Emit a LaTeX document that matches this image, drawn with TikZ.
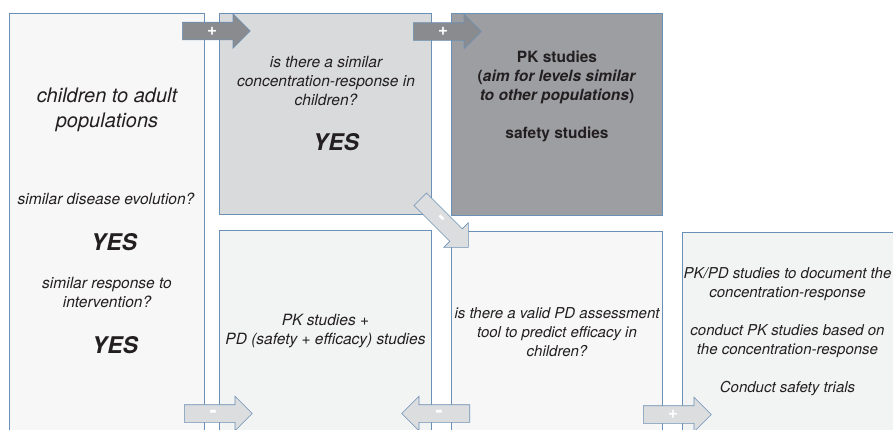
\documentclass[tikz,border=0pt]{standalone}
\usepackage{fontspec}
\setmainfont{TeX Gyre Heros}
\usetikzlibrary{shapes.arrows, calc}

\definecolor{boxline}{HTML}{6A90B5}
\definecolor{ink}{HTML}{231F20}
\definecolor{paleA}{HTML}{F7F7F7}
\definecolor{paleB}{HTML}{F2F3F3}
\definecolor{midgray}{HTML}{D9DADC}
\definecolor{darkgray}{HTML}{9D9EA2}
\definecolor{arrdark}{HTML}{8A8B8E}
\definecolor{arrlight}{HTML}{DCDDDF}

\tikzset{
  panel/.style={draw=boxline, line width=0.8pt, inner sep=0pt},
  txt/.style={text=ink, align=center, inner sep=0pt, font=\itshape\fontsize{15.5}{19}\selectfont},
  yes/.style={text=ink, inner sep=0pt, font=\bfseries\itshape\fontsize{23}{26}\selectfont},
  blockarr/.style={single arrow, draw=boxline, line width=0.6pt, minimum height=68pt,
    inner xsep=0pt, inner ysep=8.5pt, single arrow head extend=8.5pt, anchor=tail},
  sign/.style={text=white, inner sep=0pt, font=\bfseries\fontsize{17}{17}\selectfont},
  minus/.style={text=white, inner sep=0pt, font=\bfseries\fontsize{21}{21}\selectfont},
}

\begin{document}
\begin{tikzpicture}[x=1pt,y=-1pt]
                \useasboundingbox (0,0) rectangle (893,429);
                \clip (0,0) rectangle (893,429);
                % the six panels
                \node[panel, fill=paleA, minimum width=195pt, minimum height=427pt] (adult) at (106.5,226.5) {};
                \node[panel, fill=midgray, minimum width=212pt, minimum height=201pt] (conc) at (325,113.5) {};
                \node[panel, fill=darkgray, minimum width=211pt, minimum height=202pt] (pk) at (556.5,114) {};
                \node[panel, fill=paleB, minimum width=212pt, minimum height=210pt] (pkpd) at (325,335) {};
                \node[panel, fill=paleA, minimum width=211pt, minimum height=209pt] (valid) at (556.5,335.5) {};
                \node[panel, fill=paleB, minimum width=218pt, minimum height=208pt] (doc) at (791,336) {};
                % block arrows, placed by their tails
                \node[blockarr, fill=arrdark] (plusA) at (182,31) {};
                \node[blockarr, fill=arrdark] (plusB) at (413,31.5) {};
                \node[blockarr, fill=arrlight, rotate=-45] (minusC) at (420,199) {};
                \node[blockarr, fill=arrlight] (minusD) at (184,413.5) {};
                \node[blockarr, fill=arrlight, shape border rotate=180] (minusE) at (470,413.5) {};
                \node[blockarr, fill=arrlight] (plusF) at (643,414.5) {};
                \node[sign] (plusAsign) at ($(plusA.tail)!30pt!(plusA.tip)$) {+};
                \node[sign] (plusBsign) at ($(plusB.tail)!30pt!(plusB.tip)$) {+};
                \node[minus, rotate=-45] (minusCsign) at ($(minusC.tail)!29pt!(minusC.tip)$) {-};
                \node[minus] (minusDsign) at ($(minusD.tail)!29pt!(minusD.tip)$) {-};
                \node[minus] (minusEsign) at ($(minusE.tail)!31pt!(minusE.tip)$) {-};
                \node[sign] (plusFsign) at ($(plusF.tail)!30pt!(plusF.tip)$) {+};
                % texts
                \node[txt, font=\itshape\fontsize{20}{25}\selectfont] (title) at (107,110) {children to adult\\populations};
                \node[txt] (qdisease) at (106,199) {similar disease evolution?};
                \node[yes] (yesA) at (114,242) {YES};
                \node[txt] (qresponse) at (107,292.5) {similar response to\\intervention?};
                \node[yes] (yesB) at (115,345) {YES};
                \node[txt] (qconc) at (326,81) {is there a similar\\concentration-response in\\children?};
                \node[yes] (yesC) at (336,142) {YES};
                \node[txt, font=\bfseries\fontsize{15.5}{19}\selectfont] (pktext) at (557,96) {PK studies\\(\textit{aim for levels similar}\\\textit{to other populations})\\[19pt]safety studies};
                \node[txt] (pkpdtext) at (325.5,331.5) {PK studies +\\PD (safety + efficacy) studies};
                \node[txt, font=\itshape\fontsize{15}{19}\selectfont] (validtext) at (557,332) {is there a valid PD assessment\\tool to predict efficacy in\\children?};
                \node[txt, font=\itshape\fontsize{15}{19}\selectfont] (doctext) at (787.5,332) {PK/PD studies to document the\\concentration-response\\[19pt]conduct PK studies based on\\the concentration-response\\[19pt]Conduct safety trials};
            \end{tikzpicture}
\end{document}
